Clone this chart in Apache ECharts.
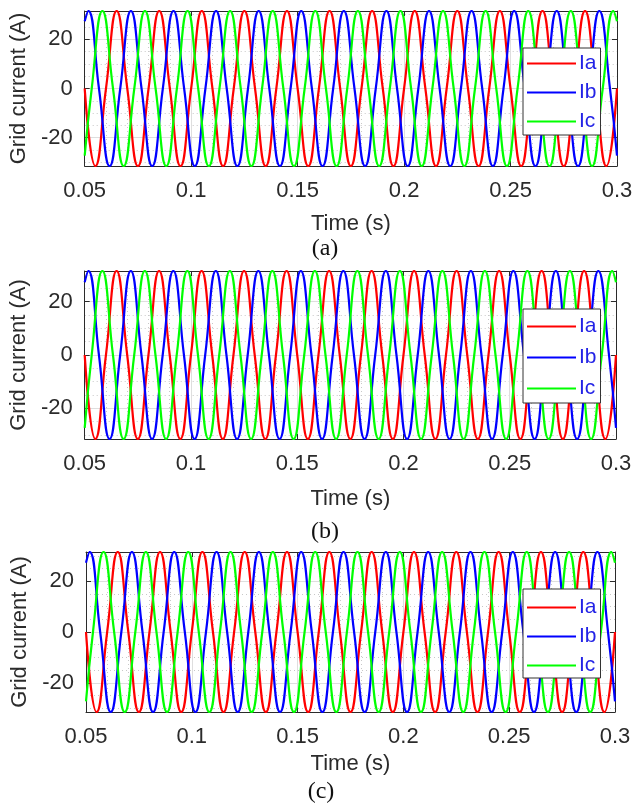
<!DOCTYPE html>
<html>
<head>
<meta charset="utf-8">
<title>Grid current</title>
<script src="https://cdn.jsdelivr.net/npm/echarts@6/dist/echarts.min.js"></script>
<style>
  html, body { margin: 0; padding: 0; background: #ffffff; }
  #chart { width: 644px; height: 807px; }
</style>
</head>
<body>
<div id="chart"></div>
<script>
// phase currents: times of peaks / zero crossings (s) and values (A)
const timeIa = [
  0.05, 0.055, 0.06, 0.065, 0.07, 0.075, 0.08, 0.085, 0.09, 0.095,
  0.1, 0.105, 0.11, 0.115, 0.12, 0.125, 0.13, 0.135, 0.14, 0.145,
  0.15, 0.155, 0.16, 0.165, 0.17, 0.175, 0.18, 0.185, 0.19, 0.195,
  0.2, 0.205, 0.21, 0.215, 0.22, 0.225, 0.23, 0.235, 0.24, 0.245,
  0.25, 0.255, 0.26, 0.265, 0.27, 0.275, 0.28, 0.285, 0.29, 0.295,
  0.3
];
const currentIa = [
  0, -31.5, 0, 31.5, 0, -31.5, 0, 31.5, 0, -31.5,
  0, 31.5, 0, -31.5, 0, 31.5, 0, -31.5, 0, 31.5,
  0, -31.5, 0, 31.5, 0, -31.5, 0, 31.5, 0, -31.5,
  0, 31.5, 0, -31.5, 0, 31.5, 0, -31.5, 0, 31.5,
  0, -31.5, 0, 31.5, 0, -31.5, 0, 31.5, 0, -31.5,
  0
];
const timeIb = [
  0.05,
  0.0517, 0.0567, 0.0617, 0.0667, 0.0717, 0.0767, 0.0817, 0.0867, 0.0917, 0.0967,
  0.1017, 0.1067, 0.1117, 0.1167, 0.1217, 0.1267, 0.1317, 0.1367, 0.1417, 0.1467,
  0.1517, 0.1567, 0.1617, 0.1667, 0.1717, 0.1767, 0.1817, 0.1867, 0.1917, 0.1967,
  0.2017, 0.2067, 0.2117, 0.2167, 0.2217, 0.2267, 0.2317, 0.2367, 0.2417, 0.2467,
  0.2517, 0.2567, 0.2617, 0.2667, 0.2717, 0.2767, 0.2817, 0.2867, 0.2917, 0.2967,
  0.3
];
const currentIb = [
  27.3,
  31.5, 0, -31.5, 0, 31.5, 0, -31.5, 0, 31.5, 0,
  -31.5, 0, 31.5, 0, -31.5, 0, 31.5, 0, -31.5, 0,
  31.5, 0, -31.5, 0, 31.5, 0, -31.5, 0, 31.5, 0,
  -31.5, 0, 31.5, 0, -31.5, 0, 31.5, 0, -31.5, 0,
  31.5, 0, -31.5, 0, 31.5, 0, -31.5, 0, 31.5, 0,
  -27.3
];
const timeIc = [
  0.05,
  0.0533, 0.0583, 0.0633, 0.0683, 0.0733, 0.0783, 0.0833, 0.0883, 0.0933, 0.0983,
  0.1033, 0.1083, 0.1133, 0.1183, 0.1233, 0.1283, 0.1333, 0.1383, 0.1433, 0.1483,
  0.1533, 0.1583, 0.1633, 0.1683, 0.1733, 0.1783, 0.1833, 0.1883, 0.1933, 0.1983,
  0.2033, 0.2083, 0.2133, 0.2183, 0.2233, 0.2283, 0.2333, 0.2383, 0.2433, 0.2483,
  0.2533, 0.2583, 0.2633, 0.2683, 0.2733, 0.2783, 0.2833, 0.2883, 0.2933, 0.2983,
  0.3
];
const currentIc = [
  -27.3,
  0, 31.5, 0, -31.5, 0, 31.5, 0, -31.5, 0, 31.5,
  0, -31.5, 0, 31.5, 0, -31.5, 0, 31.5, 0, -31.5,
  0, 31.5, 0, -31.5, 0, 31.5, 0, -31.5, 0, 31.5,
  0, -31.5, 0, 31.5, 0, -31.5, 0, 31.5, 0, -31.5,
  0, 31.5, 0, -31.5, 0, 31.5, 0, -31.5, 0, 31.5,
  27.3
];
const seriesNames = ['Ia', 'Ib', 'Ic'];
const panelCaptions = ['(a)', '(b)', '(c)'];
const timeRange = [0.05, 0.3];
const currentRange = [-31.5, 31.5];

// layout of the three stacked panels (px)
const panels = [
  { left: 84, top: 11, width: 533, height: 155, nameGap: 47, legendTop: 48, legendGap: 8, legendPad: [5, 4, 3, 4], capX: 325, capY: 249 },
  { left: 84, top: 271, width: 532, height: 168, nameGap: 49, legendTop: 309, legendGap: 10, legendPad: [7, 4, 4, 4], capX: 325, capY: 532 },
  { left: 86, top: 552, width: 529, height: 160, nameGap: 41, legendTop: 589, legendGap: 8, legendPad: [8, 4, 2, 4], capX: 321, capY: 792 }
];
const colors = ['#ff0000', '#0000ff', '#00ff00'];
const sans = '"Liberation Sans", Arial, Helvetica, sans-serif';
const axisColor = '#2b2b2b';

var chartDom = document.getElementById('chart');
var myChart = echarts.init(chartDom, null, { renderer: 'canvas' });

function pairs(t, v) {
  return t.map(function (x, i) { return [x, v[i]]; });
}
const waves = [pairs(timeIa, currentIa), pairs(timeIb, currentIb), pairs(timeIc, currentIc)];

var grids = [], xAxes = [], yAxes = [], series = [], legends = [], graphics = [];

panels.forEach(function (p, i) {
  grids.push({ left: p.left, top: p.top, width: p.width, height: p.height });

  // bottom + top x axes (top one only closes the box)
  xAxes.push({
    type: 'value', gridIndex: i, position: 'bottom',
    min: timeRange[0], max: timeRange[1], interval: 0.05,
    name: 'Time (s)', nameLocation: 'middle', nameGap: p.nameGap,
    nameTextStyle: { fontSize: 22, color: axisColor, fontFamily: sans },
    axisLine: { onZero: false, lineStyle: { color: axisColor, width: 1 } },
    axisTick: { inside: true, length: 5, lineStyle: { color: axisColor } },
    axisLabel: { margin: 14, fontSize: 22, color: axisColor, fontFamily: sans },
    splitLine: { show: true, lineStyle: { color: '#dedede', width: 1 } },
    minorTick: { show: false, splitNumber: 5 },
    minorSplitLine: { show: true, lineStyle: { color: '#c8c8c8', width: 1, type: [1, 3] } }
  });
  xAxes.push({
    type: 'value', gridIndex: i, position: 'top',
    min: timeRange[0], max: timeRange[1], interval: 0.05,
    axisLine: { onZero: false, lineStyle: { color: axisColor, width: 1 } },
    axisTick: { inside: true, length: 5, lineStyle: { color: axisColor } },
    axisLabel: { show: false },
    splitLine: { show: false }
  });

  yAxes.push({
    type: 'value', gridIndex: i, position: 'left',
    min: currentRange[0], max: currentRange[1], splitNumber: 3,
    name: 'Grid current (A)', nameLocation: 'middle', nameGap: 49, nameRotate: 90,
    nameTextStyle: { fontSize: 22, color: axisColor, fontFamily: sans },
    axisLine: { onZero: false, lineStyle: { color: axisColor, width: 1 } },
    axisTick: { inside: true, length: 5, lineStyle: { color: axisColor } },
    axisLabel: { margin: 12, fontSize: 22, color: axisColor, fontFamily: sans, showMinLabel: false, showMaxLabel: false },
    splitLine: { show: true, lineStyle: { color: '#dedede', width: 1 } },
    minorTick: { show: false, splitNumber: 4 },
    minorSplitLine: { show: true, lineStyle: { color: '#c8c8c8', width: 1, type: [1, 3] } }
  });
  yAxes.push({
    type: 'value', gridIndex: i, position: 'right',
    min: currentRange[0], max: currentRange[1], splitNumber: 3,
    axisLine: { onZero: false, lineStyle: { color: axisColor, width: 1 } },
    axisTick: { inside: true, length: 5, lineStyle: { color: axisColor } },
    axisLabel: { show: false },
    splitLine: { show: false }
  });

  seriesNames.forEach(function (name, k) {
    series.push({
      name: name, type: 'line',
      xAxisIndex: 2 * i, yAxisIndex: 2 * i,
      data: waves[k],
      smooth: true, symbol: 'none', showSymbol: false, clip: true,
      color: colors[k],
      lineStyle: { color: colors[k], width: 2.2 }
    });
  });

  legends.push({
    data: seriesNames, orient: 'vertical',
    left: 523, top: p.legendTop,
    icon: 'rect', itemWidth: 49, itemHeight: 2, itemGap: p.legendGap,
    padding: p.legendPad,
    backgroundColor: '#ffffff', borderColor: '#333333', borderWidth: 1, borderRadius: 0,
    selectedMode: false,
    textStyle: { fontSize: 21, color: '#2323e6', fontFamily: sans, padding: [0, 0, 0, -2] }
  });

  graphics.push({
    type: 'text', x: p.capX, y: p.capY,
    style: { text: panelCaptions[i], fontSize: 24, fontFamily: '"Liberation Serif", "Times New Roman", serif', fill: '#111111', align: 'center', verticalAlign: 'middle' }
  });
});

var option = {
  backgroundColor: '#ffffff',
  animation: false,
  grid: grids,
  xAxis: xAxes,
  yAxis: yAxes,
  legend: legends,
  series: series,
  graphic: graphics
};

option && myChart.setOption(option);
</script>
</body>
</html>
